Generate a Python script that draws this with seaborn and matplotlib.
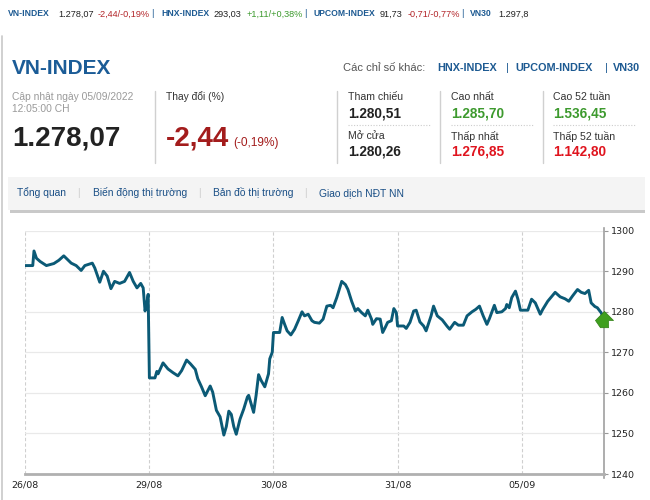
import numpy as np
import pandas as pd
import matplotlib
matplotlib.use("Agg")
import matplotlib.pyplot as plt
import seaborn as sns
from matplotlib.path import Path
from matplotlib.patches import Rectangle
from matplotlib.lines import Line2D

# ---------------- data ----------------
# intraday time in trading-day units (0 = 26/08 open) and VN-INDEX level
time_26 = [0.00, 0.06, 0.07, 0.09, 0.12, 0.17, 0.23, 0.27, 0.31, 0.33, 0.37, 0.41, 0.45,
           0.48, 0.54, 0.56, 0.60, 0.63, 0.66, 0.69, 0.72, 0.76, 0.80, 0.84, 0.87, 0.90,
           0.93, 0.95, 0.965, 0.98, 0.99]
val_26 = [1291.4, 1291.4, 1295.0, 1293.2, 1292.4, 1291.4, 1291.9, 1292.7, 1293.8, 1293.2,
          1292.0, 1291.4, 1290.2, 1291.4, 1292.0, 1290.8, 1287.3, 1290.0, 1288.8, 1285.7,
          1287.5, 1287.0, 1287.5, 1289.7, 1287.5, 1285.9, 1287.0, 1285.9, 1280.2, 1282.2,
          1284.3]
time_29 = [1.00, 1.045, 1.06, 1.07, 1.11, 1.15, 1.19, 1.23, 1.26, 1.30, 1.33, 1.37, 1.39,
           1.42, 1.45, 1.49, 1.51, 1.54, 1.57, 1.60, 1.62, 1.64, 1.66, 1.68, 1.70, 1.73,
           1.76, 1.79, 1.80, 1.84, 1.86, 1.88, 1.90, 1.93, 1.96, 1.97, 1.99]
val_29 = [1263.7, 1263.7, 1265.3, 1264.7, 1267.4, 1265.9, 1265.0, 1264.2, 1265.5, 1268.1,
          1267.2, 1265.8, 1263.5, 1261.5, 1259.3, 1261.7, 1260.2, 1255.7, 1254.1, 1249.6,
          1251.7, 1255.5, 1254.7, 1251.7, 1249.8, 1253.5, 1256.0, 1259.0, 1259.4, 1255.2,
          1259.4, 1264.5, 1263.1, 1261.5, 1264.7, 1268.4, 1270.0]
time_30 = [2.00, 2.05, 2.07, 2.09, 2.11, 2.14, 2.17, 2.20, 2.23, 2.25, 2.28, 2.31, 2.33,
           2.37, 2.40, 2.43, 2.46, 2.48, 2.51, 2.53, 2.55, 2.58, 2.60, 2.63, 2.66, 2.68,
           2.71, 2.74, 2.76, 2.79, 2.80, 2.83, 2.86, 2.88, 2.90, 2.92, 2.95, 2.97, 2.99]
val_30 = [1274.9, 1274.9, 1278.6, 1276.9, 1275.3, 1274.3, 1275.7, 1277.8, 1280.0, 1279.0,
          1279.4, 1277.8, 1277.4, 1277.2, 1278.2, 1281.4, 1281.6, 1281.0, 1283.5, 1285.5,
          1287.5, 1286.7, 1285.5, 1282.6, 1280.2, 1280.8, 1279.8, 1279.0, 1280.4, 1278.2,
          1276.9, 1278.3, 1278.2, 1274.9, 1276.1, 1277.4, 1277.8, 1280.8, 1279.8]
time_31 = [3.00, 3.05, 3.07, 3.10, 3.13, 3.15, 3.18, 3.21, 3.23, 3.27, 3.29, 3.32, 3.36,
           3.40, 3.42, 3.46, 3.49, 3.53, 3.56, 3.60, 3.63, 3.66, 3.69, 3.72, 3.74, 3.78,
           3.80, 3.84, 3.87, 3.88, 3.90, 3.92, 3.95, 3.97, 3.99]
val_31 = [1276.5, 1276.5, 1275.9, 1277.4, 1280.2, 1280.4, 1277.5, 1276.5, 1275.3, 1279.0,
          1281.4, 1279.0, 1278.0, 1276.4, 1275.7, 1277.4, 1276.7, 1276.7, 1279.0, 1280.0,
          1280.6, 1281.4, 1279.0, 1276.9, 1278.3, 1281.6, 1279.8, 1280.0, 1280.8, 1281.8,
          1281.0, 1283.5, 1285.1, 1283.1, 1280.4]
time_05 = [4.00, 4.05, 4.08, 4.11, 4.15, 4.17, 4.21, 4.27, 4.31, 4.35, 4.38, 4.41, 4.45,
           4.48, 4.51, 4.54, 4.56, 4.59, 4.61, 4.64, 4.666]
val_05 = [1280.4, 1280.4, 1283.1, 1282.2, 1279.4, 1280.6, 1282.6, 1284.8, 1283.7, 1283.2,
          1282.6, 1283.9, 1285.5, 1284.8, 1284.5, 1285.3, 1282.2, 1281.3, 1281.0, 1279.8,
          1278.07]

day_labels = ["26/08", "29/08", "30/08", "31/08", "05/09"]
y_ticks = [1240, 1250, 1260, 1270, 1280, 1290, 1300]

ticker_names = ["VN-INDEX", "HNX-INDEX", "UPCOM-INDEX", "VN30"]
ticker_values = ["1.278,07", "293,03", "91,73", "1.297,8"]
ticker_changes = ["-2,44/-0,19%", "+1,11/+0,38%", "-0,71/-0,77%", ""]

stat_labels = ["Tham chiếu", "Mở cửa", "Cao nhất", "Thấp nhất", "Cao 52 tuần", "Thấp 52 tuần"]
stat_values = ["1.280,51", "1.280,26", "1.285,70", "1.276,85", "1.536,45", "1.142,80"]
tabs = ["Tổng quan", "Biến động thị trường", "Bản đồ thị trường", "Giao dịch NĐT NN"]

df = pd.DataFrame({
    "t": time_26 + time_29 + time_30 + time_31 + time_05,
    "v": val_26 + val_29 + val_30 + val_31 + val_05,
})

# ---------------- style ----------------
sns.set_style("white")
plt.rcParams["font.family"] = ["Liberation Sans", "DejaVu Sans"]

W, H = 650, 500
fig = plt.figure(figsize=(6.5, 5), dpi=100)
fig.patch.set_facecolor("white")


def P(x, y):
    return x / W, 1 - y / H


BLUE = "#1d5a92"
DARK = "#222222"
RED_T = "#b3262a"
GREEN = "#3d9a2e"
RED_B = "#e0141e"

# page left border
fig.add_artist(Line2D([1.5 / W, 1.5 / W], [0, 1 - 36 / H], transform=fig.transFigure,
                      color="#c8c8c8", lw=1.2))

# ---------------- ticker bar ----------------
ticker_x = [(8, 58, 98), (161, 213, 247), (313, 380, 408), (470, 498, None)]
chg_colors = [RED_T, GREEN, RED_T, RED_T]
ty = 16.5
for i, (nx, vx, cx) in enumerate(ticker_x):
    fig.text(*P(nx, ty), ticker_names[i], color=BLUE, fontsize=6.2, va="baseline",
             fontweight="bold")
    fig.text(*P(vx, ty), ticker_values[i], color=DARK, fontsize=6.6, va="baseline")
    if cx is not None:
        fig.text(*P(cx, ty), ticker_changes[i], color=chg_colors[i], fontsize=6.6,
                 va="baseline")
for sx in [152, 305, 462]:
    fig.text(*P(sx, ty), "|", color=BLUE, fontsize=6.6, va="baseline", ha="center")

# ---------------- header ----------------
fig.text(*P(12, 68), "VN-INDEX", color="#1b5c97", fontsize=15, fontweight="bold", va="center")
fig.text(*P(343, 68), "Các chỉ số khác:", color="#555555", fontsize=8.0, va="center")
fig.text(*P(437, 68), "HNX-INDEX", color=BLUE, fontsize=7.8, fontweight="bold", va="center")
fig.text(*P(507, 68), "|", color=BLUE, fontsize=7.8, va="center", ha="center")
fig.text(*P(515, 68), "UPCOM-INDEX", color=BLUE, fontsize=7.8, fontweight="bold", va="center")
fig.text(*P(606, 68), "|", color=BLUE, fontsize=7.8, va="center", ha="center")
fig.text(*P(613, 68), "VN30", color=BLUE, fontsize=7.8, fontweight="bold", va="center")

fig.text(*P(12, 97), "Cập nhật ngày 05/09/2022", color="#9a9a9a", fontsize=7.4, va="center")
fig.text(*P(12, 109), "12:05:00 CH", color="#9a9a9a", fontsize=7.4, va="center")
fig.text(*P(12, 139), ticker_values[0], color=DARK, fontsize=20, fontweight="bold", va="center")

fig.add_artist(Line2D([155 / W, 155 / W], [1 - 91 / H, 1 - 163 / H], transform=fig.transFigure,
                      color="#d0d0d0", lw=1))
fig.text(*P(166, 97), "Thay đổi (%)", color="#333333", fontsize=7.4, va="center")
fig.text(*P(166, 139), "-2,44", color="#a31c1c", fontsize=20, fontweight="bold", va="center")
fig.text(*P(233, 143), "(-0,19%)", color="#a31c1c", fontsize=8.6, va="center")

col_x = [348, 451, 553]
sep_x = [337, 440, 543]
val_colors = [DARK, DARK, GREEN, RED_B, GREEN, RED_B]
for c in range(3):
    fig.add_artist(Line2D([sep_x[c] / W, sep_x[c] / W], [1 - 91 / H, 1 - 163 / H],
                          transform=fig.transFigure, color="#d0d0d0", lw=1))
    fig.add_artist(Line2D([col_x[c] / W, (col_x[c] + 82) / W], [1 - 125 / H, 1 - 125 / H],
                          transform=fig.transFigure, color="#cccccc", lw=0.8, ls=(0, (1, 1.5))))
    for r in range(2):
        k = 2 * c + r
        fig.text(*P(col_x[c], 97 + 39 * r), stat_labels[k], color="#333333", fontsize=7.6,
                 va="center")
        fig.text(*P(col_x[c], 113 + 39 * r), stat_values[k], color=val_colors[k], fontsize=9.8,
                 fontweight="bold", va="center")

# ---------------- tab bar ----------------
fig.add_artist(Rectangle(P(8, 210), (645 - 8) / W, (210 - 177) / H, transform=fig.transFigure,
                         facecolor="#f4f4f4", edgecolor="none"))
fig.add_artist(Rectangle(P(10, 213), (645 - 10) / W, 3 / H, transform=fig.transFigure,
                         facecolor="#c9c9c9", edgecolor="none"))
tab_x = [17, 93, 213, 319]
for i, tx in enumerate(tabs):
    fig.text(*P(tab_x[i], 193), tx, color="#1a4f86", fontsize=7.4, va="center")
for sx in [78, 199, 305]:
    fig.text(*P(sx, 193), "|", color="#cfcfcf", fontsize=7.3, va="center", ha="center")

# ---------------- chart ----------------
x0, x1, ytop, ybot = 25.3, 604.3, 230.7, 474.0
ax = fig.add_axes([x0 / W, 1 - ybot / H, (x1 - x0) / W, (ybot - ytop) / H])
ax.set_facecolor("white")
sns.lineplot(data=df, x="t", y="v", ax=ax, color="#0b5a76", linewidth=2.1,
             estimator=None, sort=False)

# green arrow at last value
arrow = Path([(-1, 0), (0, 1), (1, 0), (0.45, 0), (0.45, -0.8), (-0.45, -0.8), (-1, 0)],
             [Path.MOVETO] + [Path.LINETO] * 5 + [Path.CLOSEPOLY])
ax.plot(df["t"].iloc[-1], df["v"].iloc[-1], marker=arrow, markersize=13, color="#3f9f1f",
        markeredgecolor="#2f7f14", markeredgewidth=0.5, clip_on=False, zorder=5)

ax.set_xlim(0, time_05[-1])
ax.set_ylim(y_ticks[0], y_ticks[-1])
ax.set_xticks(range(len(day_labels)))
ax.set_xticklabels(day_labels, family="DejaVu Sans")
ax.set_yticks(y_ticks)
ax.set_yticklabels([str(v) for v in y_ticks], family="DejaVu Sans")
ax.yaxis.tick_right()
ax.tick_params(axis="x", length=0, pad=5, labelsize=6.8, labelcolor="#222222")
ax.tick_params(axis="y", length=3, width=0.8, color="#999999", pad=2, labelsize=6.8,
               labelcolor="#222222")
ax.set_xlabel("")
ax.set_ylabel("")

ax.yaxis.grid(True, color="#e9e9e9", linestyle="-", linewidth=0.9)
ax.xaxis.grid(True, color="#cfcfcf", linestyle=(0, (3, 2)), linewidth=0.8)
ax.set_axisbelow(True)

for s in ["top", "left"]:
    ax.spines[s].set_visible(False)
ax.spines["bottom"].set_color("#b0b0b0")
ax.spines["bottom"].set_linewidth(2.0)
ax.spines["right"].set_color("#a0a0a0")
ax.spines["right"].set_linewidth(1.2)
ax.spines["right"].set_bounds(1239, 1300.6)

fig.savefig("out.png", dpi=100)
